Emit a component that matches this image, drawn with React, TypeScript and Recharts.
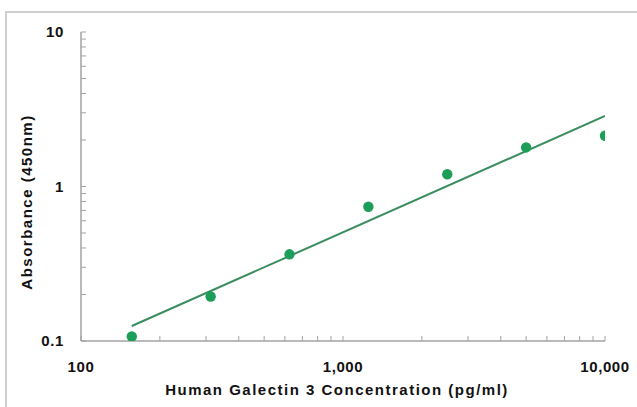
import React from "react";
import { ScatterChart, Scatter, XAxis, YAxis } from "recharts";

// standard concentrations (pg/ml) and measured OD at 450nm
const concentrations = [156.25, 312.5, 625, 1250, 2500, 5000, 10000];
const absorbance = [0.107, 0.194, 0.364, 0.74, 1.2, 1.79, 2.13];

// end points of the fitted curve
const fitX = [156.25, 10000];
const fitY = [0.125, 2.86];

const xTicks = [100, 200, 300, 400, 500, 600, 700, 800, 900, 1000, 2000, 3000, 4000, 5000, 6000, 7000, 8000, 9000, 10000];
const xMajor = [100, 1000, 10000];
const yTicks = [0.1, 0.2, 0.3, 0.4, 0.5, 0.6, 0.7, 0.8, 0.9, 1, 2, 3, 4, 5, 6, 7, 8, 9, 10];
const yMajor = [0.1, 1, 10];

const points = concentrations.map((x, i) => ({ x, y: absorbance[i] }));
const fit = fitX.map((x, i) => ({ x, y: fitY[i] }));

const FONT = "'Liberation Sans', Arial, sans-serif";
const AXIS = "#a3a3a3";
const DOT = "#1c9d58";
const LINE = "#3a8d5e";

function XTick(props: any) {
  const { x, y, payload } = props;
  const v = payload.value;
  const major = xMajor.includes(v);
  return (
    <g>
      <line x1={x} x2={x} y1={y} y2={y - 5} stroke={AXIS} strokeWidth={1} />
      {major && (
        <text
          x={x}
          y={y + 31}
          textAnchor="middle"
          fontFamily={FONT}
          fontWeight="bold"
          fontSize={15}
          letterSpacing={0.6}
          fill="#111"
        >
          {v.toLocaleString("en-US")}
        </text>
      )}
    </g>
  );
}

function YTick(props: any) {
  const { x, y, payload } = props;
  const v = payload.value;
  const major = yMajor.includes(v);
  return (
    <g>
      <line x1={x} x2={x + 5} y1={y} y2={y} stroke={AXIS} strokeWidth={1} />
      {major && (
        <text
          x={x - 17}
          y={y + 5}
          textAnchor="end"
          fontFamily={FONT}
          fontWeight="bold"
          fontSize={15}
          letterSpacing={0.6}
          fill="#111"
        >
          {String(v)}
        </text>
      )}
    </g>
  );
}

const NoShape = () => <g />;

export default function App() {
  return (
    <div style={{ position: "absolute", left: 0, top: 0, width: 637, height: 407, background: "#fff", overflow: "hidden" }}>
      <div
        style={{
          position: "absolute",
          left: 5,
          top: 11,
          width: 700,
          height: 500,
          borderTop: "2px solid #cfcfcf",
          borderLeft: "2px solid #cfcfcf",
        }}
      />
      <div style={{ position: "absolute", left: 0, top: 0 }}>
        <ScatterChart width={637} height={407} margin={{ top: 32, right: 32, bottom: 0, left: 0 }}>
          <XAxis
            type="number"
            dataKey="x"
            scale="log"
            domain={[100, 10000]}
            ticks={xTicks}
            interval={0}
            allowDataOverflow
            tick={<XTick />}
            tickLine={false}
            tickSize={0}
            tickMargin={0}
            height={66}
            axisLine={{ stroke: AXIS, strokeWidth: 1.5 }}
          />
          <YAxis
            type="number"
            dataKey="y"
            scale="log"
            domain={[0.1, 10]}
            ticks={yTicks}
            interval={0}
            allowDataOverflow
            tick={<YTick />}
            tickLine={false}
            tickSize={0}
            tickMargin={0}
            width={81}
            axisLine={{ stroke: AXIS, strokeWidth: 1.5 }}
          />
          <Scatter
            data={fit}
            line={{ stroke: LINE, strokeWidth: 2 }}
            shape={NoShape}
            isAnimationActive={false}
          />
          <Scatter
            data={points}
            fill={DOT}
            shape={(p: any) => <circle cx={p.cx} cy={p.cy} r={5.2} fill={DOT} />}
            isAnimationActive={false}
          />
        </ScatterChart>
        <svg width={637} height={407} style={{ position: "absolute", left: 0, top: 0, pointerEvents: "none" }}>
          <text
            x={337}
            y={395}
            textAnchor="middle"
            fontFamily={FONT}
            fontWeight="bold"
            fontSize={15}
            letterSpacing={1.5}
            fill="#111"
          >
            Human Galectin 3 Concentration (pg/ml)
          </text>
          <text
            x={0}
            y={0}
            transform="translate(32,202) rotate(-90)"
            textAnchor="middle"
            fontFamily={FONT}
            fontWeight="bold"
            fontSize={15}
            letterSpacing={1.5}
            fill="#111"
          >
            Absorbance (450nm)
          </text>
        </svg>
      </div>
    </div>
  );
}
